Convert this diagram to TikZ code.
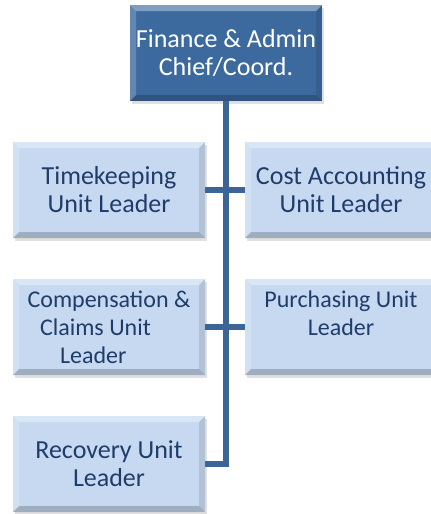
\documentclass[tikz,border=0pt]{standalone}
\usepackage{fontspec}
\setmainfont{Carlito}
\usetikzlibrary{shadows}

\definecolor{chiefblue}{HTML}{3D6A9E}
\definecolor{unitblue}{HTML}{C6D9F0}
\definecolor{textblue}{HTML}{1F3D6B}
\definecolor{linkblue}{HTML}{3B6596}

\tikzset{
  bevel/.style={path picture={
    \fill[white,opacity=.35] (path picture bounding box.north west) -- (path picture bounding box.north east)
      -- ([shift={(-6pt,-6pt)}]path picture bounding box.north east) -- ([shift={(6pt,-6pt)}]path picture bounding box.north west) -- cycle;
    \fill[white,opacity=.2] (path picture bounding box.north west) -- (path picture bounding box.south west)
      -- ([shift={(6pt,6pt)}]path picture bounding box.south west) -- ([shift={(6pt,-6pt)}]path picture bounding box.north west) -- cycle;
    \fill[black,opacity=.2] (path picture bounding box.south west) -- (path picture bounding box.south east)
      -- ([shift={(-6pt,6pt)}]path picture bounding box.south east) -- ([shift={(6pt,6pt)}]path picture bounding box.south west) -- cycle;
    \fill[black,opacity=.1] (path picture bounding box.north east) -- (path picture bounding box.south east)
      -- ([shift={(-6pt,6pt)}]path picture bounding box.south east) -- ([shift={(-6pt,-6pt)}]path picture bounding box.north east) -- cycle;
  }},
  box/.style={rectangle,minimum width=192pt,minimum height=96pt,inner sep=0pt,align=center,
    bevel,drop shadow={shadow xshift=2pt,shadow yshift=-3pt,fill=black!30,opacity=.4}},
  chiefbox/.style={box,fill=chiefblue,text=white,font=\fontsize{26}{28}\selectfont},
  unitbox/.style={box,fill=unitblue,text=textblue,font=\fontsize{26}{28}\selectfont},
  smallunit/.style={unitbox,font=\fontsize{24}{28}\selectfont},
  link/.style={draw=linkblue,line width=6pt}
}

\begin{document}
\begin{tikzpicture}[x=1pt,y=-1pt]
  \useasboundingbox (0,0) rectangle (431,514);

  \node[chiefbox] (chief) at (226,53) {Finance \& Admin\\Chief/Coord.};
  \node[unitbox] (time) at (109,190) {Timekeeping\\Unit Leader};
  \node[unitbox] (cost) at (341,190) {Cost Accounting\\Unit Leader};
  \node[smallunit] (comp) at (109,327)
    {Compensation \&\\\makebox[144pt][l]{\hspace{3pt}Claims Unit}\\\makebox[98pt][l]{Leader}};
  \node[smallunit] (purch) at (341,327) {Purchasing Unit\\Leader\\\mbox{}};
  \node[unitbox] (recov) at (109,464) {Recovery Unit\\Leader};

  % trunk down to the last box
  \draw[link] (chief.south) -- (chief.south |- recov.east) -- (recov.east);
  \foreach \from/\to in {time/cost,comp/purch}
    \draw[link] (\from.east) -- (\to.west);

\end{tikzpicture}
\end{document}
